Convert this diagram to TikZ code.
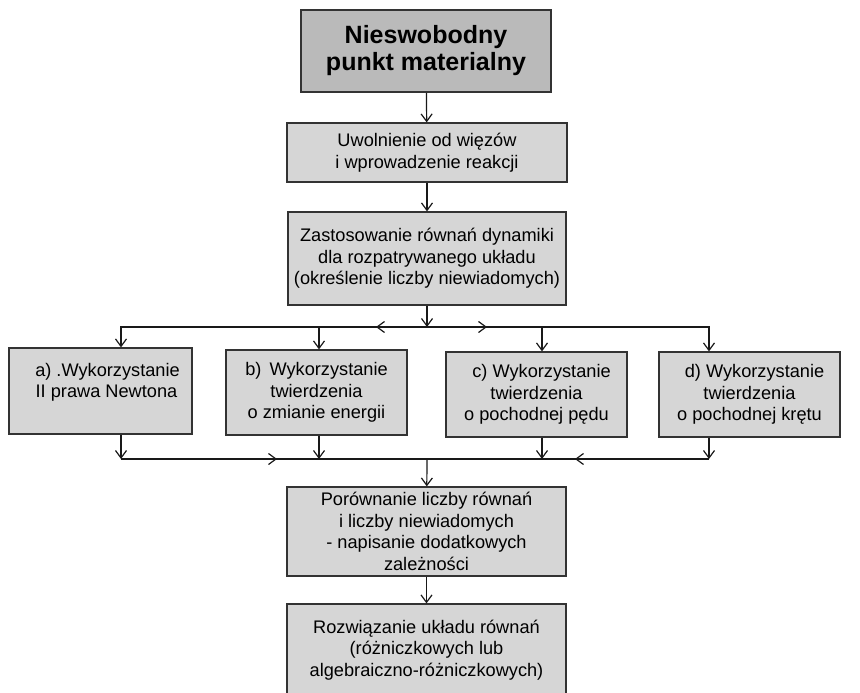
\documentclass[tikz,border=0pt]{standalone}
\usepackage{fontspec}
\setmainfont{Liberation Sans}
\usetikzlibrary{arrows.meta,positioning,calc}

\begin{document}
\begin{tikzpicture}[x=1pt, y=-1pt,
    box/.style={rectangle, draw=black!80, line width=1.2pt, fill=black!16,
                align=center, inner sep=0pt,
                font=\fontsize{18.2}{21.5}\selectfont},
    head/.style={box, fill=black!27, line width=1.7pt,
                 font=\fontsize{25}{27}\selectfont\bfseries},
    flow/.style={line width=1.2pt, draw=black!90, -{Straight Barb[length=7.5pt,width=11pt]}},
    bus/.style={line width=1.2pt, draw=black!90}
]
\useasboundingbox (0,0) rectangle (860,693);

% --- Main column ---
\node[head, minimum width=250, minimum height=82] (top)  at (426,51)    {Nieswobodny\\punkt materialny};
\node[box,  minimum width=280, minimum height=59] (free) at (427,152.5) {Uwolnienie od więzów\\i wprowadzenie reakcji};
\node[box,  minimum width=278, minimum height=93] (eqs)  at (427,258.5) {Zastosowanie równań dynamiki\\dla rozpatrywanego układu\\(określenie liczby niewiadomych)};

% --- Four methods ---
\node[box, minimum width=183, minimum height=86] (a) at (100.5,391) {\hspace*{14pt}a) .Wykorzystanie\\\hspace*{12pt}II prawa Newtona\\~};
\node[box, minimum width=181, minimum height=85] (b) at (316.5,392.5) {b)\, Wykorzystanie\\twierdzenia\\o zmianie energii};
\node[box, minimum width=181, minimum height=85] (c) at (536.5,394.5) {\hspace*{10pt}c) Wykorzystanie\\twierdzenia\\o pochodnej pędu};
\node[box, minimum width=181, minimum height=85] (d) at (749.5,394.5) {\hspace*{10pt}d) Wykorzystanie\\twierdzenia\\o pochodnej krętu};

% --- Bottom column ---
\node[box, minimum width=279, minimum height=89] (cmp) at (426.5,531.5) {Porównanie liczby równań\\i liczby niewiadomych\\- napisanie dodatkowych\\zależności};
\node[box, minimum width=279, minimum height=92] (sol) at (426.5,650) {Rozwiązanie układu równań\\(różniczkowych lub\\algebraiczno-różniczkowych)};

% --- Stub points on the methods ---
\coordinate (ain) at ([xshift=20.5pt]a.north);
\coordinate (bin) at ([xshift=2.5pt]b.north);
\coordinate (cin) at ([xshift=5.5pt]c.north);
\coordinate (din) at ([xshift=-40.5pt]d.north);
\coordinate (aout) at (ain |- a.south);
\coordinate (bout) at (bin |- b.south);
\coordinate (cout) at (cin |- c.south);
\coordinate (dout) at (din |- d.south);

\coordinate (split) at (427,327);
\coordinate (merge) at (427,459);

% --- Top edges ---
\draw[flow] (top) -- (free);
\draw[flow] (free) -- (eqs);
\draw[flow] (eqs) -- (split);

% --- Split bus ---
\draw[flow] (split) -| (ain);
\draw[flow] (split) -| (bin);
\draw[flow] (split) -| (cin);
\draw[flow] (split) -| (din);
\draw[flow] (split) -- ++(-51,0);
\draw[flow] (split) -- ++(60,0);

% --- Merge bus ---
\draw[flow] (aout) -- (aout |- merge);
\draw[flow] (bout) -- (bout |- merge);
\draw[flow] (cout) -- (cout |- merge);
\draw[flow] (dout) -- (dout |- merge);
\draw[bus] (aout |- merge) -- (dout |- merge);
\draw[flow] (aout |- merge) -- ++(156,0);
\draw[flow] (dout |- merge) -- ++(-134,0);
\draw[flow] (merge) -- (cmp);

% --- Last step ---
\draw[flow] (cmp) -- (sol);
\end{tikzpicture}
\end{document}
